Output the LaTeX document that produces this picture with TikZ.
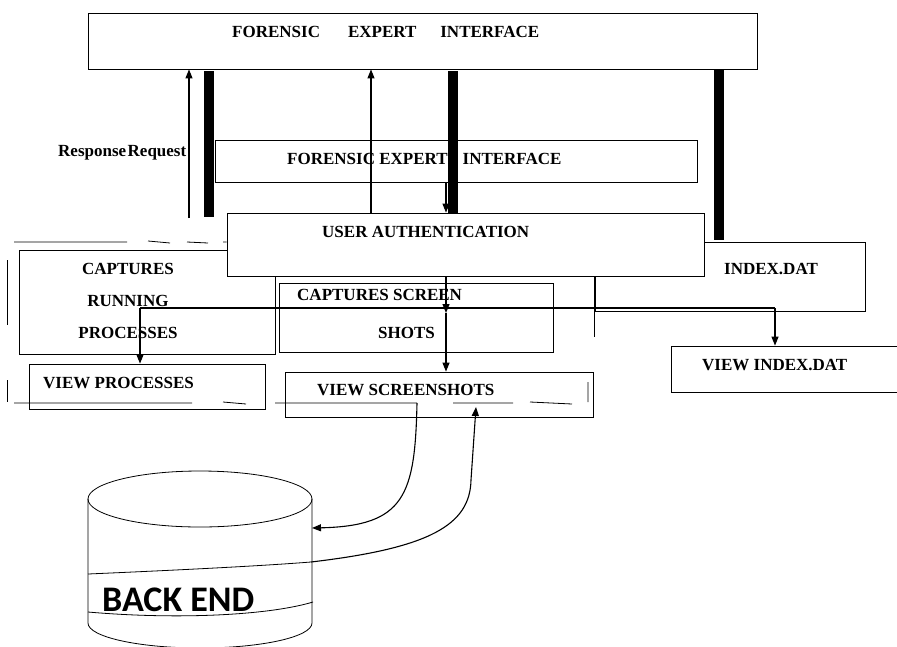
\documentclass[tikz,border=0pt]{standalone}
\usepackage{fontspec}
\setmainfont{Liberation Serif}
\newfontfamily\dbfont{Carlito}
\usepackage{tikz}
\usetikzlibrary{arrows.meta, positioning}

\begin{document}
\begin{tikzpicture}[
  x=1pt, y=-1pt,
  font=\fontsize{17}{20}\selectfont\bfseries,
  box/.style={draw, fill=white, line width=0.8pt, inner sep=0pt},
  bar/.style={fill=black, inner sep=0pt, minimum width=10pt},
  lbl/.style={inner sep=0pt, anchor=west},
  arr/.style={-{Triangle[length=9pt, width=7pt]}, line width=1.1pt},
  frm/.style={line width=0.8pt}
]
\useasboundingbox (0,0) rectangle (897,646);

% boxes
\node[box, minimum width=669pt, minimum height=56pt] (fei) at (422.5,41) {};
\node[lbl] (fei-t) at (232,32) {FORENSIC\hspace{28pt}EXPERT\hspace{24pt}INTERFACE};
\node[box, minimum width=482pt, minimum height=42pt] (fei2) at (456,161) {};
\node[lbl] (fei2-t) at (287,159) {FORENSIC EXPERT\hspace{15pt}INTERFACE};
\node[lbl] (rr) at (58,153) {Response\hspace{1.5pt}Request};

\node[box, minimum width=256pt, minimum height=104pt] (crp) at (147,302) {};
\node[inner sep=0pt, align=center, font=\fontsize{17}{32}\selectfont\bfseries] (crp-t) at (128,301) {CAPTURES\\RUNNING\\PROCESSES};
\node[box, minimum width=270pt, minimum height=69pt] (idx) at (730,276.5) {};
\node[lbl] (idx-t) at (724,269) {INDEX.DAT};
\node[box, minimum width=477pt, minimum height=63pt] (ua) at (465.5,244.5) {};
\node[lbl] (ua-t) at (322,232) {USER AUTHENTICATION};

\node[box, minimum width=274pt, minimum height=69pt] (css) at (416,317.5) {};
\node[lbl] (css-t1) at (297,295) {CAPTURES SCREEN};
\node[lbl] (css-t2) at (378,333) {SHOTS};
\node[box, minimum width=236pt, minimum height=45pt] (vp) at (147,386.5) {};
\node[lbl] (vp-t) at (43,383) {VIEW PROCESSES};
\node[box, minimum width=308pt, minimum height=45pt] (vs) at (439,394.5) {};
\node[lbl] (vs-t) at (317,390) {VIEW SCREENSHOTS};
\node[box, minimum width=228pt, minimum height=46pt] (vi) at (785,369) {};
\node[lbl] (vi-t) at (702,365) {VIEW INDEX.DAT};

% thick bars
\node[bar, minimum height=146pt] (b1) at (209,144) {};
\node[bar, minimum height=142pt] (b2) at (453,142) {};
\node[bar, minimum height=171pt] (b3) at (719,154.5) {};

% connectors
\coordinate (rrb) at (189,218);
\coordinate (up2) at (371,213);
\coordinate (dn) at (446,190);
\coordinate (split) at (446,313);
\coordinate (hl) at (140,308);
\coordinate (hr) at (775,308);
\draw[arr] (rrb) -- (rrb |- fei.south);
\draw[arr] (up2) -- (up2 |- fei.south);
\draw[arr] (fei2.south -| dn) -- (ua.north -| dn);
\draw[arr] (ua.south -| split) -- (split);
\draw[arr] (split) -- (vs.north -| split);
\draw[line width=1.1pt] (hl) -- (hr);
\draw[arr] (hl) -- (hl |- vp.north);
\draw[arr] (hr) -- (hr |- vi.north);
\draw[line width=0.8pt] (ua.south -| idx.west) -- ++(0,61);

% broken frame
\draw[frm] (14,242) -- (127,242) (148,241) -- (170,243) (187,242) -- (208,243) (223,242) -- (ua.west |- 0,242);
\draw[frm] (7,260) -- (7,325) (7,380) -- (7,402);
\draw[frm] (14,403) -- (192,403) (223,402) -- (246,404) (275,403) -- (417,403);
\draw[frm] (453,403) -- (513,403) (530,402) -- (572,404) (588,382) -- (588,402);

% back end
\draw[line width=0.8pt] (88,499) -- (88,623) arc[start angle=180, end angle=0, x radius=112, y radius=25] -- (312,499);
\draw[line width=0.8pt] (200,499) ellipse[x radius=112, y radius=28];
\draw[line width=0.8pt] (88,574) .. controls (180,570) and (260,566) .. (311,562);
\draw[line width=0.8pt] (88,612) .. controls (180,620) and (270,615) .. (313,602);
\node[lbl, font=\fontsize{36}{40}\selectfont\dbfont\bfseries] (be) at (102,600) {BACK END};

\coordinate (vsa) at (417,403);
\coordinate (dbin) at (312,528);
\coordinate (dbout) at (311,562);
\coordinate (vsb) at (476,407);
\draw[arr] (vsa) .. controls (415,495) and (405,526) .. (dbin);
\draw[arr] (dbout) .. controls (430,548) and (470,525) .. (471,480) -- (vsb);
\end{tikzpicture}
\end{document}
